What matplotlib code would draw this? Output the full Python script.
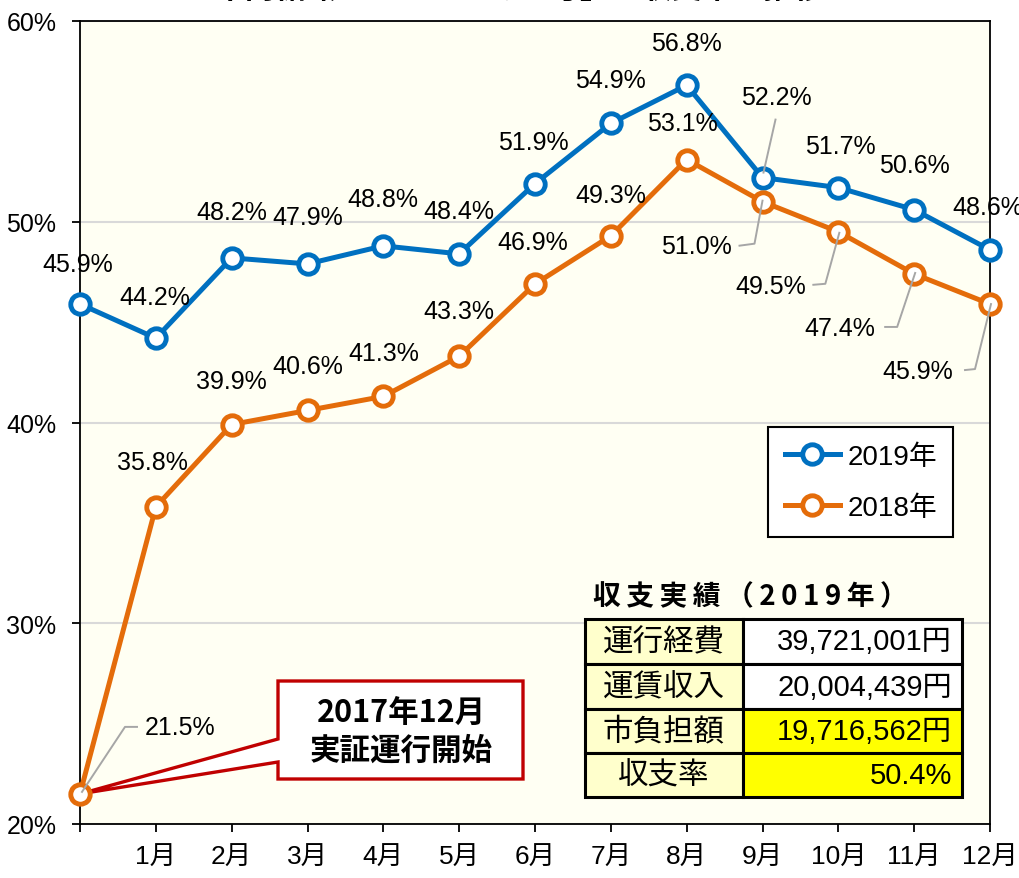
import numpy as np
import matplotlib
matplotlib.use('Agg')
import matplotlib.pyplot as plt
from matplotlib.patches import Polygon, Rectangle

# データ
months = ['', '1月', '2月', '3月', '4月', '5月', '6月', '7月', '8月', '9月', '10月', '11月', '12月']
rate_2019 = [45.9, 44.2, 48.2, 47.9, 48.8, 48.4, 51.9, 54.9, 56.8, 52.2, 51.7, 50.6, 48.6]
rate_2018 = [21.5, 35.8, 39.9, 40.6, 41.3, 43.3, 46.9, 49.3, 53.1, 51.0, 49.5, 47.4, 45.9]
yticks = [20, 30, 40, 50, 60]

table_title = '収支実績（2019年）'
table_items = ['運行経費', '運賃収入', '市負担額', '収支率']
table_values = ['39,721,001円', '20,004,439円', '19,716,562円', '50.4%']
table_colors = ['white', 'white', '#FFFF00', '#FFFF00']

callout_text = '2017年12月\n実証運行開始'
title = '市内循環バス「のりあい号」の収支率の推移'

# ラベル位置 (ピクセルオフセット)
off_2019 = [(-2, 40), (-1, 41), (0, 46), (0, 47), (0, 47), (0, 43), (-2, 42),
            (0, 43), (0, 42), (14, 81), (2, 42), (0, 45), (-2, 43)]
off_2018 = [(100, 67), (-3, 45), (0, 44), (0, 44), (0, 43), (0, 45), (-2, 42),
            (0, 41), (-4, 37), (-66, -44), (-68, -54), (-74, -54), (-72, -67)]
leaders_2019 = {9: [(1, 5), (13, 58)]}
leaders_2018 = {0: [(2, 2), (45, 67), (57, 67)],
                9: [(0, 1), (-8, -42), (-23, -44)],
                10: [(1, -1), (-13, -52), (-25, -53)],
                11: [(1, 1), (-17, -53), (-29, -53)],
                12: [(1, 0), (-15, -65), (-25, -66)]}

BLUE = '#0070C0'
ORANGE = '#E46C0A'
REGULAR = ['Liberation Sans', 'Noto Sans CJK JP']
JP = ['Noto Sans CJK JP', 'DejaVu Sans']

plt.rcParams['font.family'] = REGULAR

W, H = 1019, 879
fig = plt.figure(figsize=(W / 100, H / 100), dpi=100)
ax = fig.add_axes([80 / W, 1 - 825 / H, 910 / W, 803 / H])
ax.set_facecolor('#FFFFF3')

sx = 910 / 12
sy = 803 / 40

def px2fig(px, py):
    return px / W, 1 - py / H

def px2data(px, py):
    return (px - 80) / sx, 20 + (825 - py) / sy

x = np.arange(len(months))
ax.plot(x, rate_2019, color=BLUE, lw=3.6, marker='o', ms=14, mfc='white',
        mec=BLUE, mew=3.5, clip_on=False, zorder=5, label='2019年')
ax.plot(x, rate_2018, color=ORANGE, lw=3.6, marker='o', ms=14, mfc='white',
        mec=ORANGE, mew=3.5, clip_on=False, zorder=5, label='2018年')

ax.set_xlim(0, 12)
ax.set_ylim(20, 60)
ax.set_xticks(x)
ax.set_xticklabels(months, fontsize=19)
ax.set_yticks(yticks)
ax.set_yticklabels([f'{v}%' for v in yticks], fontsize=18)
ax.tick_params(axis='x', direction='out', length=6, width=1.3, pad=9)
ax.tick_params(axis='y', direction='out', length=6, width=1.3, pad=11)
ax.yaxis.grid(True, color='#D9D9D9', lw=1.5)
ax.set_axisbelow(True)
for s in ax.spines.values():
    s.set_color('black')
    s.set_linewidth(1.3)

# データラベルと引き出し線
for vals, offs, leaders in [(rate_2019, off_2019, leaders_2019), (rate_2018, off_2018, leaders_2018)]:
    for i, v in enumerate(vals):
        ax.annotate(f'{v:.1f}%', (i, v), xytext=offs[i], textcoords='offset pixels',
                    ha='center', va='center', fontsize=18, zorder=8, annotation_clip=False)
        if i in leaders:
            lx = [i + dx / sx for dx, dy in leaders[i]]
            ly = [v + dy / sy for dx, dy in leaders[i]]
            ax.plot(lx, ly, color='#A6A6A6', lw=1.4, zorder=7, clip_on=False)

# 吹き出し
tip = (0, rate_2018[0])
box = [px2data(278, 740), px2data(278, 682), px2data(523, 682), px2data(523, 780),
       px2data(278, 780), px2data(278, 763), tip]
ax.add_patch(Polygon(box, closed=True, facecolor='white', edgecolor='#C00000',
                     lw=2.4, zorder=4, joinstyle='miter'))
cx, cy = px2data(401, 732)
ax.text(cx, cy, callout_text, ha='center', va='center', fontsize=22, fontweight='bold',
        family=JP, linespacing=1.25, zorder=6)

# 凡例
leg = ax.legend(loc='upper left', bbox_to_anchor=px2fig(768, 428), bbox_transform=fig.transFigure,
                prop={'family': REGULAR, 'size': 20}, frameon=True, fancybox=False,
                edgecolor='black', facecolor='white', framealpha=1, handlelength=2.0,
                handletextpad=0.25, labelspacing=0.9, borderpad=0.6, borderaxespad=0)
leg.get_frame().set_linewidth(1.5)
leg.set_zorder(9)

# 収支実績の表
fig.text(*px2fig(593, 597), '\u2009'.join(table_title), ha='left', va='center', fontsize=20,
         fontweight='bold', family=JP)
row_y = [620, 665, 710, 754, 798]
col_x = [585, 743, 962]
for r in range(len(table_items)):
    y0, y1 = row_y[r], row_y[r + 1]
    for c, color in enumerate(['#FFFFCC', table_colors[r]]):
        x0, x1 = col_x[c], col_x[c + 1]
        fx, fy = px2fig(x0, y1)
        fig.add_artist(Rectangle((fx, fy), (x1 - x0) / W, (y1 - y0) / H, transform=fig.transFigure,
                                 facecolor=color, edgecolor='black', lw=2.2, zorder=10))
    ym = (y0 + y1) / 2
    fig.text(*px2fig((col_x[0] + col_x[1]) / 2, ym), table_items[r], ha='center', va='center',
             fontsize=22, family=JP, zorder=11)
    fig.text(*px2fig(952, ym), table_values[r], ha='right', va='center',
             fontsize=21, family=REGULAR, zorder=11)

# タイトル (上端で切れている)
fig.text(*px2fig(520, -2), title, ha='center', va='baseline', fontsize=22,
         fontweight='bold', family=JP)

fig.savefig('out.png', dpi=100, facecolor='white')
